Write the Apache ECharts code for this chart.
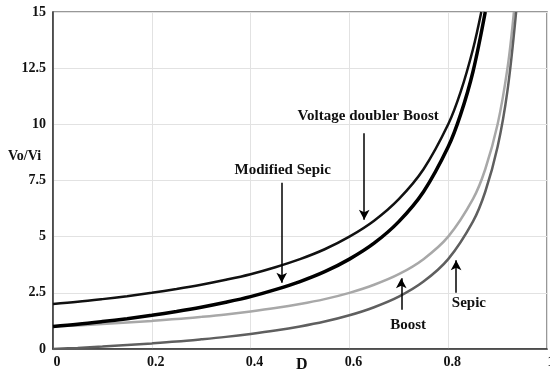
<!DOCTYPE html>
<html>
<head>
<meta charset="utf-8">
<script src="https://cdn.jsdelivr.net/npm/echarts@6/dist/echarts.min.js"></script>
<style>
html,body{margin:0;padding:0;background:#fff;}
#chart{width:550px;height:371px;}
</style>
</head>
<body>
<div id="chart"></div>
<script>
// Duty cycle D values (x) and gain Vo/Vi
const dA = [0, 0.05, 0.1, 0.15, 0.2, 0.25, 0.3, 0.35, 0.4, 0.45, 0.5, 0.55, 0.6, 0.65, 0.7, 0.75, 0.8, 0.825, 0.85, 0.867];
const voltageDoubler = [2.0, 2.1, 2.22, 2.35, 2.5, 2.67, 2.86, 3.08, 3.33, 3.64, 4.0, 4.44, 5.0, 5.71, 6.67, 8.0, 10.0, 11.43, 13.33, 15.0];

const dB = [0, 0.05, 0.1, 0.15, 0.2, 0.25, 0.3, 0.35, 0.4, 0.45, 0.5, 0.55, 0.6, 0.65, 0.7, 0.75, 0.8, 0.825, 0.85, 0.875];
const modifiedSepic = [1.0, 1.1, 1.22, 1.35, 1.5, 1.67, 1.86, 2.08, 2.33, 2.64, 3.0, 3.44, 4.0, 4.71, 5.67, 7.0, 9.0, 10.43, 12.33, 15.0];

const dC = [0, 0.05, 0.1, 0.15, 0.2, 0.25, 0.3, 0.35, 0.4, 0.45, 0.5, 0.55, 0.6, 0.65, 0.7, 0.75, 0.8, 0.85, 0.875, 0.9, 0.92, 0.933];
const boost = [1.0, 1.05, 1.11, 1.18, 1.25, 1.33, 1.43, 1.54, 1.67, 1.82, 2.0, 2.22, 2.5, 2.86, 3.33, 4.0, 5.0, 6.67, 8.0, 10.0, 12.5, 15.0];

const dD = [0, 0.05, 0.1, 0.15, 0.2, 0.25, 0.3, 0.35, 0.4, 0.45, 0.5, 0.55, 0.6, 0.65, 0.7, 0.75, 0.8, 0.85, 0.875, 0.9, 0.92, 0.9375];
const sepic = [0.0, 0.05, 0.11, 0.18, 0.25, 0.33, 0.43, 0.54, 0.67, 0.82, 1.0, 1.22, 1.5, 1.86, 2.33, 3.0, 4.0, 5.67, 7.0, 9.0, 11.5, 15.0];

const xTicks = [0, 0.2, 0.4, 0.6, 0.8, 1];
const yTicks = [0, 2.5, 5, 7.5, 10, 12.5, 15];

const annotationNames = ['Voltage doubler Boost', 'Modified Sepic', 'Boost', 'Sepic'];
const xTitle = 'D';
const yTitle = 'Vo/Vi';

function pairs(xs, ys){ return xs.map((x,i)=>[x, ys[i]]); }

const FONT = '"Liberation Serif", "Times New Roman", serif';
const chart = echarts.init(document.getElementById('chart'), null, {renderer:'canvas'});

const lineBase = {
  type: 'line', smooth: 0.35, showSymbol: false, symbol: 'none',
  clip: true, silent: true, animation: false
};

const textStyle = {fontFamily: FONT, fontWeight: 'bold', fontSize: 15, color: '#111'};

const option = {
  animation: false,
  backgroundColor: '#fff',
  grid: {left: 53, right: 3, top: 12, bottom: 22, show: true, borderColor: '#777', borderWidth: 1.5,
    containLabel: false, outerBoundsMode: 'none'},
  xAxis: {
    type: 'value', min: 0, max: 1, interval: 0.2,
    axisLine: {show: true, lineStyle: {color: '#333', width: 1.5}},
    axisTick: {show: false},
    splitLine: {show: true, lineStyle: {color: '#e2e2e2', width: 1}},
    axisLabel: {fontFamily: FONT, fontWeight: 'bold', fontSize: 14, color: '#111', margin: 6,
      padding: [0, 0, 0, 8], hideOverlap: false,
      formatter: v => xTicks.includes(+v.toFixed(1)) ? String(+v.toFixed(1)) : ''}
  },
  yAxis: {
    type: 'value', min: 0, max: 15, interval: 2.5,
    axisLine: {show: true, lineStyle: {color: '#333', width: 1.5}},
    axisTick: {show: false},
    splitLine: {show: true, lineStyle: {color: '#e2e2e2', width: 1}},
    axisLabel: {fontFamily: FONT, fontWeight: 'bold', fontSize: 14, color: '#111', margin: 7,
      padding: [8, 0, 0, 0], hideOverlap: false,
      formatter: v => yTicks.includes(v) ? String(v) : ''}
  },
  graphic: [{
    type: 'text', left: 8, top: 149,
    style: {text: yTitle, font: 'bold 14px ' + FONT, fill: '#111'}
  }, {
    type: 'text', left: 296, top: 357,
    style: {text: xTitle, font: 'bold 16px ' + FONT, fill: '#111'}
  }],
  series: [
    Object.assign({}, lineBase, {
      name: annotationNames[0], data: pairs(dA, voltageDoubler), z: 4,
      lineStyle: {color: '#111', width: 2.5},
      markLine: {
        silent: true, symbol: ['none', 'arrow'], symbolSize: [8, 10],
        lineStyle: {color: '#000', width: 1.5, type: 'solid'}, label: {show: false},
        data: [[{coord: [0.63, 9.6]}, {coord: [0.63, 5.75]}]]
      },
      markPoint: {
        silent: true, symbol: 'circle', symbolSize: 0,
        label: Object.assign({show: true, position: 'inside', formatter: annotationNames[0]}, textStyle),
        data: [{coord: [0.638, 10.35]}]
      }
    }),
    Object.assign({}, lineBase, {
      name: annotationNames[1], data: pairs(dB, modifiedSepic), z: 4,
      lineStyle: {color: '#000', width: 3.5},
      markLine: {
        silent: true, symbol: ['none', 'arrow'], symbolSize: [8, 10],
        lineStyle: {color: '#000', width: 1.5, type: 'solid'}, label: {show: false},
        data: [[{coord: [0.463, 7.4]}, {coord: [0.463, 2.95]}]]
      },
      markPoint: {
        silent: true, symbol: 'circle', symbolSize: 0,
        label: Object.assign({show: true, position: 'inside', formatter: annotationNames[1]}, textStyle),
        data: [{coord: [0.465, 7.97]}]
      }
    }),
    Object.assign({}, lineBase, {
      name: annotationNames[2], data: pairs(dC, boost), z: 3,
      lineStyle: {color: '#a8a8a8', width: 2.5},
      markLine: {
        silent: true, symbol: ['none', 'arrow'], symbolSize: [8, 10],
        lineStyle: {color: '#000', width: 1.5, type: 'solid'}, label: {show: false},
        data: [[{coord: [0.705, 1.75]}, {coord: [0.705, 3.15]}]]
      },
      markPoint: {
        silent: true, symbol: 'circle', symbolSize: 0,
        label: Object.assign({show: true, position: 'inside', formatter: annotationNames[2]}, textStyle),
        data: [{coord: [0.719, 1.07]}]
      }
    }),
    Object.assign({}, lineBase, {
      name: annotationNames[3], data: pairs(dD, sepic), z: 3,
      lineStyle: {color: '#5f5f5f', width: 2.5},
      markLine: {
        silent: true, symbol: ['none', 'arrow'], symbolSize: [8, 10],
        lineStyle: {color: '#000', width: 1.5, type: 'solid'}, label: {show: false},
        data: [[{coord: [0.816, 2.5]}, {coord: [0.816, 3.95]}]]
      },
      markPoint: {
        silent: true, symbol: 'circle', symbolSize: 0,
        label: Object.assign({show: true, position: 'inside', formatter: annotationNames[3]}, textStyle),
        data: [{coord: [0.842, 2.05]}]
      }
    })
  ]
};
chart.setOption(option);
</script>
</body>
</html>
